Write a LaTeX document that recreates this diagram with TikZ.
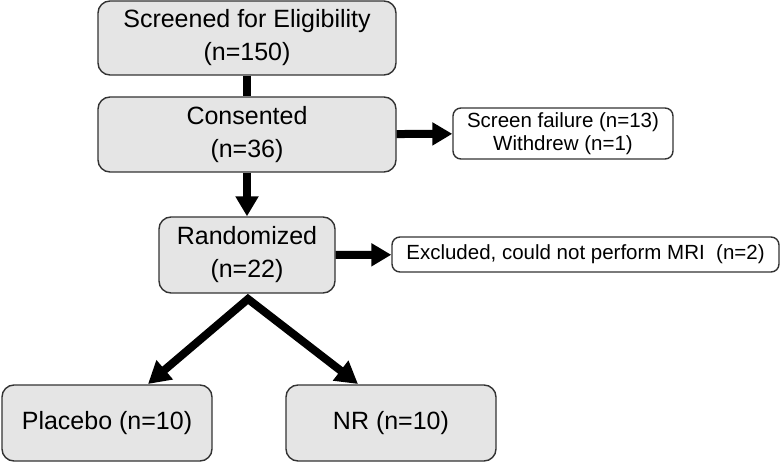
\documentclass[tikz,border=0pt]{standalone}
\usepackage{fontspec}
\setmainfont{Liberation Sans}
\usetikzlibrary{arrows.meta}

\begin{document}
\begin{tikzpicture}[x=1pt,y=-1pt,
  stage/.style={draw=black!80,line width=1.4pt,fill=black!10,rounded corners=12pt,
    align=center,inner sep=0pt,font=\fontsize{25}{33}\selectfont},
  side/.style={draw=black!80,line width=1.4pt,fill=white,rounded corners=8pt,
    align=center,inner sep=0pt,font=\fontsize{20.5}{23.5}\selectfont},
  flowline/.style={line width=8pt},
  flowarrow/.style={line width=8pt,-{Triangle[length=20pt,width=22pt]}}]

\useasboundingbox (0,0) rectangle (781,462);

\node[stage,minimum width=298pt,minimum height=74pt] (screen) at (247,38) {Screened for Eligibility\\(n=150)};
\node[stage,minimum width=298pt,minimum height=75pt] (consent) at (247,134.5) {Consented\\(n=36)};
\node[side,minimum width=220pt,minimum height=51pt] (failure) at (563,133.5) {Screen failure (n=13)\\Withdrew (n=1)};
\node[stage,minimum width=176pt,minimum height=76pt] (random) at (247,255) {Randomized\\(n=22)};
\node[side,minimum width=387pt,minimum height=35pt] (excluded) at (585.5,254.5) {Excluded, could not perform MRI\ \ (n=2)};
\node[stage,minimum width=210pt,minimum height=76pt] (placebo) at (107,423) {Placebo (n=10)};
\node[stage,minimum width=210pt,minimum height=76pt] (nr) at (391,423) {NR (n=10)};

\coordinate (fork) at (248,299);
\coordinate (placebotip) at (148,384);
\coordinate (nrtip) at (358,384);

\draw[flowline] (screen) -- (consent);
\draw[flowarrow] (consent) -- (failure);
\draw[flowarrow] (consent) -- (random);
\draw[flowarrow] (random) -- (excluded);
\draw[flowarrow,{Triangle[length=22pt,width=24pt]}-{Triangle[length=22pt,width=24pt]},miter limit=10] (placebotip) -- (fork) -- (nrtip);

\end{tikzpicture}
\end{document}
